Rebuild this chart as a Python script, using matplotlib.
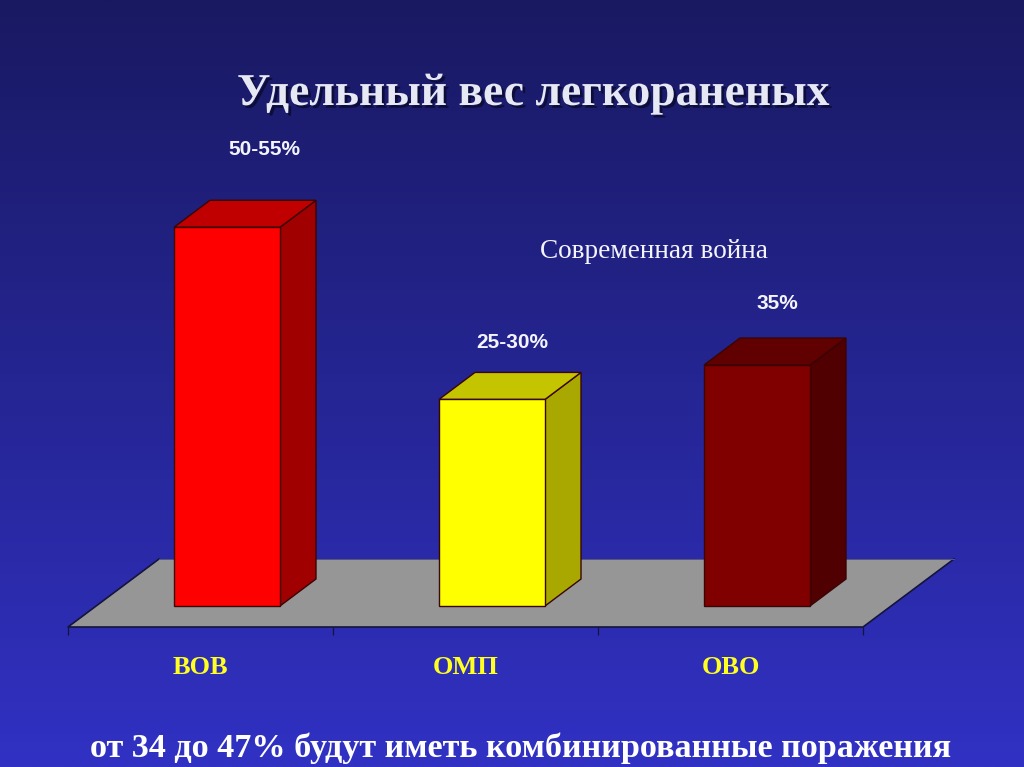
import numpy as np
import matplotlib
matplotlib.use('Agg')
import matplotlib.pyplot as plt
from matplotlib.patches import Polygon
import matplotlib.patheffects as pe

# Data
categories = ['ВОВ', 'ОМП', 'ОВО']
heights = [55, 30, 35]
value_labels = ['50-55%', '25-30%', '35%']
front_colors = ['#FF0000', '#FFFF00', '#800000']
top_colors = ['#C00000', '#C4C400', '#600000']
side_colors = ['#A00000', '#A8A800', '#500000']

W, H = 1024, 767
PX_PER_X = 265.0   # one category in pixels
PX_PER_Y = 6.886   # one percent in pixels
X0_PX = 200.5      # pixel of category 0
Y0_PX = 606.0      # pixel of value 0

fig = plt.figure(figsize=(W / 100, H / 100), dpi=100)
ax = fig.add_axes([0, 0, 1, 1])
ax.set_xlim((0 - X0_PX) / PX_PER_X, (W - X0_PX) / PX_PER_X)
ax.set_ylim((Y0_PX - H) / PX_PER_Y, Y0_PX / PX_PER_Y)
ax.axis('off')

# background gradient
top = np.array([0x19, 0x19, 0x62]) / 255
bottom = np.array([0x31, 0x31, 0xC4]) / 255
t = np.linspace(0, 1, 256)[:, None, None]
grad = top + (bottom - top) * t
ax.imshow(grad, extent=[ax.get_xlim()[0], ax.get_xlim()[1], ax.get_ylim()[0], ax.get_ylim()[1]],
          aspect='auto', origin='upper', zorder=0)
ax.set_xlim((0 - X0_PX) / PX_PER_X, (W - X0_PX) / PX_PER_X)
ax.set_ylim((Y0_PX - H) / PX_PER_Y, Y0_PX / PX_PER_Y)

x = np.arange(len(categories))
left_edge = x[0] - 0.5
right_edge = x[-1] + 0.5
floor_front = -21 / PX_PER_Y
floor_back = 47 / PX_PER_Y
floor_dx = 91 / PX_PER_X

# floor
ax.add_patch(Polygon([(left_edge, floor_front), (right_edge, floor_front),
                      (right_edge + floor_dx, floor_back), (left_edge + floor_dx, floor_back)],
                     closed=True, facecolor='#969696', edgecolor='none', zorder=1))
ax.plot([left_edge + floor_dx, left_edge, right_edge, right_edge + floor_dx],
        [floor_back, floor_front, floor_front, floor_back],
        color='#14143C', lw=1.2, zorder=2)
ax.plot([left_edge + floor_dx, right_edge + floor_dx], [floor_back, floor_back],
        color='#55557A', lw=0.7, zorder=2)
ax.vlines(np.arange(left_edge, right_edge + 1), floor_front - 8 / PX_PER_Y, floor_front,
          color='#14143C', lw=0.9, zorder=2)

# bars
offset = 0.1
bar_w = 0.4
dx = 36 / PX_PER_X
dy = 27 / PX_PER_Y
edge = '#3A0505'
label_dx = [37, 20, 20]
label_dy = [51, 30, 34]
for i, h in enumerate(heights):
    l = x[i] + offset - bar_w / 2
    r = l + bar_w
    ax.add_patch(Polygon([(r, 0), (r + dx, dy), (r + dx, h + dy), (r, h)], closed=True,
                         facecolor=side_colors[i], edgecolor=edge, lw=1, zorder=3))
    ax.add_patch(Polygon([(l, h), (r, h), (r + dx, h + dy), (l + dx, h + dy)], closed=True,
                         facecolor=top_colors[i], edgecolor=edge, lw=1, zorder=3))
    ax.bar(x[i] + offset, h, width=bar_w, color=front_colors[i], edgecolor=edge, lw=1, zorder=4)
    ax.text(x[i] + offset + label_dx[i] / PX_PER_X, h + dy + label_dy[i] / PX_PER_Y,
            value_labels[i], color='#F4F4FF', fontsize=15, fontweight='bold',
            family='Liberation Sans', ha='center', va='center', zorder=5)

# category labels
for i, name in enumerate(categories):
    ax.text(x[i], (Y0_PX - 668) / PX_PER_Y, name, color='#FFFF22', fontsize=19, fontweight='bold',
            family='Liberation Serif', ha='center', va='center', zorder=5)

# title and notes
title = fig.text(533 / W, 1 - 94 / H, 'Удельный вес легкораненых', color='#E6E8F4', fontsize=32.8,
                 fontweight='bold', family='Liberation Serif', ha='center', va='center')
title.set_path_effects([pe.withSimplePatchShadow(offset=(2, -2), shadow_rgbFace='#0A0A30', alpha=0.8)])
fig.text(653.5 / W, 1 - 251 / H, 'Современная война', color='#F4F4FF', fontsize=19.6,
         family='Liberation Serif', ha='center', va='center')
fig.text(521 / W, 1 - 748 / H, 'от 34 до 47% будут иметь комбинированные поражения', color='white',
         fontsize=24.6, fontweight='bold', family='Liberation Serif', ha='center', va='center')

fig.savefig('out.png', dpi=100)
